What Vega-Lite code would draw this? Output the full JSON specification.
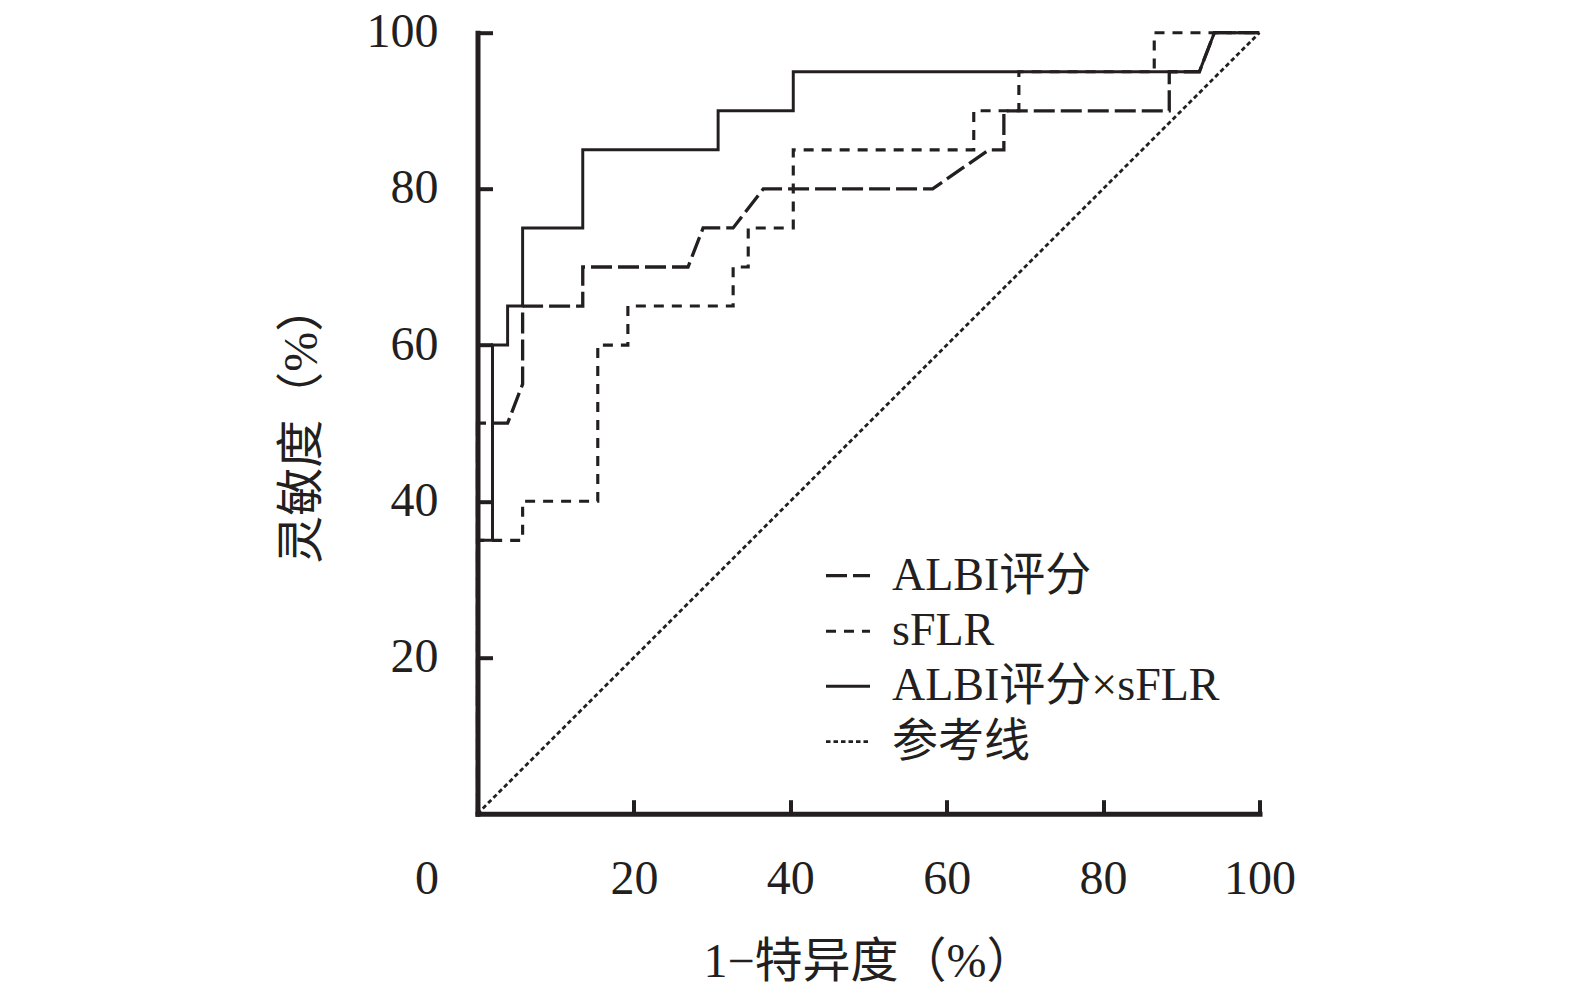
{
  "$schema": "https://vega.github.io/schema/vega-lite/v6.json",
  "width": 782,
  "height": 781,
  "autosize": {"type": "none"},
  "padding": {"left": 477.5, "top": 32.7, "right": 315.5, "bottom": 184.3},
  "background": "white",
  "config": {"view": {"stroke": null}, "font": "Liberation Serif, Noto Sans CJK SC"},
  "data": {"values": [
    {"s": "ALBI评分", "o": 0, "x": 0, "y": 0},
    {"s": "ALBI评分", "o": 1, "x": 0, "y": 50},
    {"s": "ALBI评分", "o": 2, "x": 3.85, "y": 50},
    {"s": "ALBI评分", "o": 3, "x": 5.77, "y": 55},
    {"s": "ALBI评分", "o": 4, "x": 5.77, "y": 65},
    {"s": "ALBI评分", "o": 5, "x": 13.46, "y": 65},
    {"s": "ALBI评分", "o": 6, "x": 13.46, "y": 70},
    {"s": "ALBI评分", "o": 7, "x": 26.92, "y": 70},
    {"s": "ALBI评分", "o": 8, "x": 28.85, "y": 75},
    {"s": "ALBI评分", "o": 9, "x": 32.69, "y": 75},
    {"s": "ALBI评分", "o": 10, "x": 36.54, "y": 80},
    {"s": "ALBI评分", "o": 11, "x": 58.2, "y": 80},
    {"s": "ALBI评分", "o": 12, "x": 65.38, "y": 85},
    {"s": "ALBI评分", "o": 13, "x": 67.31, "y": 85},
    {"s": "ALBI评分", "o": 14, "x": 67.31, "y": 90},
    {"s": "ALBI评分", "o": 15, "x": 88.46, "y": 90},
    {"s": "ALBI评分", "o": 16, "x": 88.46, "y": 95},
    {"s": "ALBI评分", "o": 17, "x": 92.31, "y": 95},
    {"s": "ALBI评分", "o": 18, "x": 94.23, "y": 100},
    {"s": "ALBI评分", "o": 19, "x": 100, "y": 100},
    {"s": "sFLR", "o": 0, "x": 0, "y": 0},
    {"s": "sFLR", "o": 1, "x": 0, "y": 35},
    {"s": "sFLR", "o": 2, "x": 5.77, "y": 35},
    {"s": "sFLR", "o": 3, "x": 5.77, "y": 40},
    {"s": "sFLR", "o": 4, "x": 15.38, "y": 40},
    {"s": "sFLR", "o": 5, "x": 15.38, "y": 60},
    {"s": "sFLR", "o": 6, "x": 19.23, "y": 60},
    {"s": "sFLR", "o": 7, "x": 19.23, "y": 65},
    {"s": "sFLR", "o": 8, "x": 32.69, "y": 65},
    {"s": "sFLR", "o": 9, "x": 32.69, "y": 70},
    {"s": "sFLR", "o": 10, "x": 34.62, "y": 70},
    {"s": "sFLR", "o": 11, "x": 34.62, "y": 75},
    {"s": "sFLR", "o": 12, "x": 40.38, "y": 75},
    {"s": "sFLR", "o": 13, "x": 40.38, "y": 85},
    {"s": "sFLR", "o": 14, "x": 63.46, "y": 85},
    {"s": "sFLR", "o": 15, "x": 63.46, "y": 90},
    {"s": "sFLR", "o": 16, "x": 69.23, "y": 90},
    {"s": "sFLR", "o": 17, "x": 69.23, "y": 95},
    {"s": "sFLR", "o": 18, "x": 86.54, "y": 95},
    {"s": "sFLR", "o": 19, "x": 86.54, "y": 100},
    {"s": "sFLR", "o": 20, "x": 100, "y": 100},
    {"s": "ALBI评分×sFLR", "o": 0, "x": 0, "y": 0},
    {"s": "ALBI评分×sFLR", "o": 1, "x": 0, "y": 35},
    {"s": "ALBI评分×sFLR", "o": 2, "x": 1.92, "y": 35},
    {"s": "ALBI评分×sFLR", "o": 3, "x": 1.92, "y": 60},
    {"s": "ALBI评分×sFLR", "o": 4, "x": 3.85, "y": 60},
    {"s": "ALBI评分×sFLR", "o": 5, "x": 3.85, "y": 65},
    {"s": "ALBI评分×sFLR", "o": 6, "x": 5.77, "y": 65},
    {"s": "ALBI评分×sFLR", "o": 7, "x": 5.77, "y": 75},
    {"s": "ALBI评分×sFLR", "o": 8, "x": 13.46, "y": 75},
    {"s": "ALBI评分×sFLR", "o": 9, "x": 13.46, "y": 85},
    {"s": "ALBI评分×sFLR", "o": 10, "x": 30.77, "y": 85},
    {"s": "ALBI评分×sFLR", "o": 11, "x": 30.77, "y": 90},
    {"s": "ALBI评分×sFLR", "o": 12, "x": 40.38, "y": 90},
    {"s": "ALBI评分×sFLR", "o": 13, "x": 40.38, "y": 95},
    {"s": "ALBI评分×sFLR", "o": 14, "x": 92.31, "y": 95},
    {"s": "ALBI评分×sFLR", "o": 15, "x": 94.23, "y": 100},
    {"s": "ALBI评分×sFLR", "o": 16, "x": 100, "y": 100},
    {"s": "参考线", "o": 0, "x": 0, "y": 0},
    {"s": "参考线", "o": 1, "x": 100, "y": 100}
  ]},
  "mark": {"type": "line", "clip": false, "color": "#231f20"},
  "encoding": {
    "x": {
      "field": "x", "type": "quantitative",
      "scale": {"domain": [0, 100], "nice": false, "zero": false},
      "axis": {
        "values": [0, 20, 40, 60, 80, 100],
        "title": "1−特异度（%）",
        "grid": false,
        "domainWidth": 5, "domainColor": "#231f20", "domainCap": "square",
        "tickSize": -14, "tickWidth": 4, "tickColor": "#231f20",
        "labelFontSize": 48, "labelColor": "#231f20", "labelFont": "Liberation Serif, Noto Sans CJK SC",
        "labelBaseline": "middle", "labelPadding": 80, "labelFlush": false, "labelOverlap": false,
        "labelOffset": {"condition": {"test": "datum.value === 0", "value": -51}, "value": 0},
        "titleFontSize": 48, "titleFont": "Liberation Serif, Noto Sans CJK SC", "titleFontWeight": "normal",
        "titleColor": "#231f20", "titlePadding": 35
      }
    },
    "y": {
      "field": "y", "type": "quantitative",
      "scale": {"domain": [0, 100], "nice": false, "zero": false},
      "axis": {
        "values": [20, 40, 60, 80, 100],
        "title": "灵敏度（%）",
        "grid": false,
        "domainWidth": 5, "domainColor": "#231f20", "domainCap": "square",
        "tickSize": -15, "tickWidth": 4, "tickColor": "#231f20",
        "labelFontSize": 48, "labelColor": "#231f20", "labelFont": "Liberation Serif, Noto Sans CJK SC",
        "labelPadding": 54.5, "labelFlush": false, "labelOverlap": false,
        "titleFontSize": 48, "titleFont": "Liberation Serif, Noto Sans CJK SC", "titleFontWeight": "normal",
        "titleColor": "#231f20", "titlePadding": 40
      }
    },
    "order": {"field": "o", "type": "quantitative"},
    "strokeDash": {
      "field": "s", "type": "nominal",
      "scale": {"domain": ["ALBI评分", "sFLR", "ALBI评分×sFLR", "参考线"], "range": [[21, 6], [10, 8], [1, 0], [4.5, 3]]},
      "legend": {
        "orient": "none", "legendX": 346.5, "legendY": 519,
        "title": null, "padding": 0,
        "symbolType": "stroke", "symbolSize": 1936, "symbolStrokeWidth": 3, "symbolStrokeColor": "#231f20",
        "labelFontSize": 46, "labelFont": "Liberation Serif, Noto Sans CJK SC", "labelColor": "#231f20",
        "labelOffset": 20, "rowPadding": 8.5, "labelLimit": 0
      }
    },
    "strokeWidth": {
      "field": "s", "type": "nominal",
      "scale": {"domain": ["ALBI评分", "sFLR", "ALBI评分×sFLR", "参考线"], "range": [3.3, 2.8, 2.8, 2.2]},
      "legend": null
    }
  }
}
